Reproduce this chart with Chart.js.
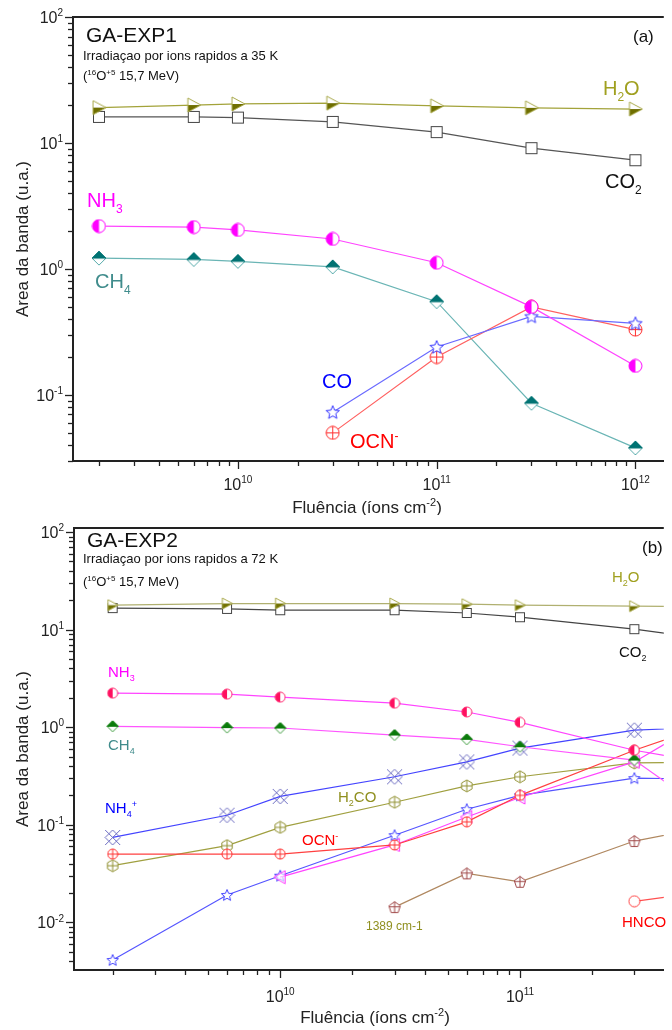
<!DOCTYPE html>
<html>
<head>
<meta charset="utf-8">
<script src="https://cdn.jsdelivr.net/npm/chart.js@4.4.1/dist/chart.umd.min.js"></script>
<style>
  html, body { margin: 0; padding: 0; background: #fff; }
  .wrap { position: absolute; left: 0; width: 672px; height: 515px; }
</style>
</head>
<body>
<div class="wrap" style="top:0"><canvas id="chartA" width="672" height="515"></canvas></div>
<div class="wrap" style="top:515px"><canvas id="chartB" width="672" height="515"></canvas></div>
<script>
// ---- dados (a) ----
const fluenceA = [2e9, 6e9, 1e10, 3e10, 1e11, 3e11, 1e12];
const h2oA = [19.1, 20, 20.4, 20.7, 19.7, 19, 18.6];
const co2A = [16.1, 16.1, 15.9, 14.7, 12.2, 9.1, 7.3];
const nh3A = [2.19, 2.15, 2.04, 1.73, 1.12, 0.5, 0.17];
const ch4A = [1.22, 1.19, 1.15, 1.04, 0.55, 0.086, 0.038];
const coA  = [null, null, null, 0.073, 0.24, 0.42, 0.37];
const ocnA = [null, null, null, 0.05, 0.20, 0.5, 0.33];

// ---- dados (b) ----
const fluenceB = [2e9, 6e9, 1e10, 3e10, 6e10, 1e11, 3e11, 1e12];
const h2oB  = [17.8, 18.5, 18.5, 18.5, 18.2, 17.8, 17.4, 17];
const co2B  = [16.6, 16.3, 15.8, 15.8, 14.8, 13.4, 10.1, 6.8];
const nh3B  = [2.23, 2.18, 2.03, 1.76, 1.43, 1.12, 0.58, 0.35];
const ch4B  = [1.02, 0.99, 0.98, 0.83, 0.75, 0.63, 0.46, 0.057];
const nh4B  = [0.074, 0.125, 0.195, 0.31, 0.44, 0.61, 0.93, 1.05];
const h2coB = [0.038, 0.061, 0.094, 0.17, 0.25, 0.31, 0.43, 0.44];
const ocnB  = [0.05, 0.05, 0.05, 0.062, 0.107, 0.2, 0.58, 1.6];
const coB   = [0.0041, 0.019, 0.030, 0.078, 0.144, 0.2, 0.30, 0.29];
const triB  = [null, null, 0.029, 0.062, 0.12, 0.19, 0.44, 2.5];
const b1389 = [null, null, null, 0.0143, 0.0317, 0.026, 0.068, 0.12];
const hncoB = [null, null, null, null, null, null, 0.0164, 0.024];

const FONT = 'Liberation Sans, Arial, sans-serif';

// texto com sub/sobrescrito: H_{2}O, cm^{-2}
function parse(s) {
  const out = [];
  const re = /([_^])\{([^}]*)\}|([^_^]+)/g;
  let m;
  while ((m = re.exec(s))) {
    if (m[3]) out.push([m[3], 0]);
    else out.push([m[2], m[1] === '^' ? 1 : -1]);
  }
  return out;
}

function rich(ctx, x, y, str, size, color, align) {
  const small = Math.round(size * 0.62);
  let w = 0;
  const segs = parse(str).map(([t, m]) => {
    const f = (m ? small : size) + 'px ' + FONT;
    ctx.font = f;
    const sw = ctx.measureText(t).width;
    w += sw;
    return { t, m, f, sw };
  });
  let cx = align === 'center' ? x - w / 2 : align === 'right' ? x - w : x;
  ctx.fillStyle = color;
  ctx.textAlign = 'left';
  ctx.textBaseline = 'alphabetic';
  segs.forEach(s => {
    ctx.font = s.f;
    const dy = s.m === 1 ? -size * 0.42 : s.m === -1 ? size * 0.28 : 0;
    ctx.fillText(s.t, cx, y + dy);
    cx += s.sw;
  });
}

// ---- marcadores ----
function marker(size, fn) {
  const c = document.createElement('canvas');
  c.width = c.height = size;
  const g = c.getContext('2d');
  g.translate(size / 2, size / 2);
  g.lineWidth = 1;
  fn(g, size / 2 - 1);
  return c;
}
const triHalf = (size, edge, dark) => marker(size, (g, r) => {
  g.beginPath(); g.moveTo(-r * 0.85, -r); g.lineTo(r, 0); g.lineTo(-r * 0.85, r); g.closePath();
  g.fillStyle = '#fff'; g.fill();
  g.save(); g.clip(); g.fillStyle = dark; g.fillRect(-r - 1, 0, 2 * r + 2, r + 1); g.restore();
  g.strokeStyle = edge; g.stroke();
});
const halfCirc = (size, fill, edge) => marker(size, (g, r) => {
  g.beginPath(); g.arc(0, 0, r, 0, Math.PI * 2); g.fillStyle = '#fff'; g.fill();
  g.beginPath(); g.arc(0, 0, r, Math.PI / 2, Math.PI * 1.5); g.closePath(); g.fillStyle = fill; g.fill();
  g.beginPath(); g.arc(0, 0, r, 0, Math.PI * 2); g.strokeStyle = edge; g.stroke();
});
const halfDiam = (size, dark, edge) => marker(size, (g, r) => {
  g.beginPath(); g.moveTo(0, -r); g.lineTo(r, 0); g.lineTo(0, r); g.lineTo(-r, 0); g.closePath();
  g.fillStyle = '#fff'; g.fill(); g.strokeStyle = edge; g.stroke();
  g.beginPath(); g.moveTo(0, -r); g.lineTo(r, 0); g.lineTo(-r, 0); g.closePath();
  g.fillStyle = dark; g.fill(); g.strokeStyle = dark; g.stroke();
});
const openSquare = (size, edge) => marker(size, (g, r) => {
  g.fillStyle = '#fff'; g.fillRect(-r, -r, 2 * r, 2 * r);
  g.strokeStyle = edge; g.strokeRect(-r + 0.5, -r + 0.5, 2 * r - 1, 2 * r - 1);
});
const star = (size, col) => marker(size, (g, r) => {
  g.beginPath();
  for (let i = 0; i < 10; i++) {
    const rr = i % 2 ? r * 0.45 : r;
    const a = -Math.PI / 2 + i * Math.PI / 5;
    g.lineTo(rr * Math.cos(a), rr * Math.sin(a) + r * 0.08);
  }
  g.closePath(); g.fillStyle = '#fff'; g.fill(); g.strokeStyle = col; g.stroke();
});
function poly(g, n, r, rot) {
  g.beginPath();
  for (let i = 0; i < n; i++) {
    const a = rot + i * 2 * Math.PI / n;
    g.lineTo(r * Math.cos(a), r * Math.sin(a));
  }
  g.closePath();
}
function plus(g, r) {
  g.beginPath(); g.moveTo(-r, 0); g.lineTo(r, 0); g.moveTo(0, -r); g.lineTo(0, r); g.stroke();
}
const circPlus = (size, col) => marker(size, (g, r) => {
  g.beginPath(); g.arc(0, 0, r, 0, Math.PI * 2); g.fillStyle = '#fff'; g.fill();
  g.strokeStyle = col; g.stroke(); plus(g, r);
});
const hexPlus = (size, col) => marker(size, (g, r) => {
  poly(g, 6, r, -Math.PI / 2); g.fillStyle = '#fff'; g.fill(); g.strokeStyle = col; g.stroke(); plus(g, r * 0.86);
});
const pentPlus = (size, col) => marker(size, (g, r) => {
  g.translate(0, r * 0.1);
  poly(g, 5, r, -Math.PI / 2); g.fillStyle = '#fff'; g.fill(); g.strokeStyle = col; g.stroke();
  g.beginPath(); g.moveTo(-r * 0.9, -r * 0.15); g.lineTo(r * 0.9, -r * 0.15); g.moveTo(0, -r); g.lineTo(0, r * 0.8); g.stroke();
});
// losango dividido em 4 com um X ate os cantos
const lattice = (size, col) => marker(size, (g, r) => {
  g.strokeStyle = col;
  g.beginPath();
  [-r, 0, r].forEach(c => {
    const a = Math.max(-r, -r + c), b = Math.min(r, r + c);
    g.moveTo(a, a - c); g.lineTo(b, b - c);
    g.moveTo(a, c - a); g.lineTo(b, c - b);
  });
  g.stroke();
});
const leftTri = (size, col) => marker(size, (g, r) => {
  g.beginPath(); g.moveTo(-r, 0); g.lineTo(r * 0.75, -r); g.lineTo(r * 0.75, r); g.closePath();
  g.fillStyle = 'rgba(255,255,255,0.6)'; g.fill(); g.strokeStyle = col; g.stroke();
});
const openCirc = (size, col) => marker(size, (g, r) => {
  g.beginPath(); g.arc(0, 0, r, 0, Math.PI * 2); g.fillStyle = '#fff'; g.fill(); g.strokeStyle = col; g.stroke();
});

function ds(xs, ys, line, pt) {
  return {
    data: xs.map((x, i) => ({ x: x, y: ys[i] })).filter(p => p.y != null),
    borderColor: line,
    borderWidth: 1.2,
    pointStyle: pt,
    pointRadius: 7,
    tension: 0,
    fill: false
  };
}

// ticks, rotulos e textos desenhados em volta do grafico
function decor(cfg) {
  return {
    id: 'decor',
    afterDraw(chart) {
      const ctx = chart.ctx, a = chart.chartArea;
      const xs = chart.scales.x, ys = chart.scales.y;
      ctx.save();
      ctx.strokeStyle = '#222';
      ctx.lineWidth = 2;
      ctx.beginPath(); ctx.moveTo(a.left, a.top); ctx.lineTo(a.right, a.top); ctx.stroke();
      ctx.lineWidth = 1.3;
      const eachTick = (sc, cb) => {
        for (let e = Math.floor(Math.log10(sc.min)); e <= Math.ceil(Math.log10(sc.max)); e++) {
          for (let m = 1; m <= 9; m++) {
            const v = m * Math.pow(10, e);
            if (v < sc.min * 0.999 || v > sc.max * 1.001) continue;
            cb(sc.getPixelForValue(v), m, e);
          }
        }
      };
      eachTick(ys, (p, m, e) => {
        const len = m === 1 ? 8 : 5;
        ctx.beginPath(); ctx.moveTo(a.left - len, Math.round(p) + 0.5); ctx.lineTo(a.left, Math.round(p) + 0.5); ctx.stroke();
        if (m === 1) rich(ctx, a.left - 10, p + 6, '10^{' + e + '}', cfg.tickSize, '#222', 'right');
      });
      eachTick(xs, (p, m, e) => {
        const len = m === 1 ? 8 : 5;
        ctx.beginPath(); ctx.moveTo(Math.round(p) + 0.5, a.bottom); ctx.lineTo(Math.round(p) + 0.5, a.bottom + len); ctx.stroke();
        if (m === 1) rich(ctx, p, a.bottom + cfg.xLabelDy, '10^{' + e + '}', cfg.tickSize, '#222', 'center');
      });
      // titulos dos eixos
      rich(ctx, cfg.xTitle[0], cfg.xTitle[1], 'Fluência (íons cm^{-2})', 17, '#222', 'center');
      ctx.save();
      ctx.translate(28, (a.top + a.bottom) / 2);
      ctx.rotate(-Math.PI / 2);
      rich(ctx, 0, 0, 'Area da banda (u.a.)', 17, '#222', 'center');
      ctx.restore();
      cfg.texts.forEach(t => rich(ctx, t[0], t[1], t[2], t[3], t[4], 'left'));
      ctx.restore();
    }
  };
}

function makeChart(id, datasets, xr, yr, area, cfg) {
  return new Chart(document.getElementById(id), {
    type: 'line',
    data: { datasets: datasets },
    options: {
      responsive: false,
      animation: false,
      layout: { padding: { top: area.top, left: 0, right: 0, bottom: 0 } },
      plugins: { legend: { display: false }, tooltip: { enabled: false } },
      scales: {
        x: {
          type: 'logarithmic', min: xr[0], max: xr[1],
          grid: { display: false, drawTicks: false },
          ticks: { display: false },
          border: { display: true, color: '#222', width: 2 },
          afterFit: s => { s.height = 515 - area.bottom; }
        },
        y: {
          type: 'logarithmic', min: yr[0], max: yr[1],
          grid: { display: false, drawTicks: false },
          ticks: { display: false },
          border: { display: true, color: '#222', width: 2 },
          afterFit: s => { s.width = area.left; }
        }
      }
    },
    plugins: [decor(cfg)]
  });
}

// ---- painel (a) ----
makeChart('chartA', [
  ds(fluenceA, h2oA, '#a3a33a', triHalf(16, '#a8a84a', '#6e6e00')),
  ds(fluenceA, co2A, '#555555', openSquare(14, '#444')),
  ds(fluenceA, nh3A, '#ff44ff', halfCirc(15, '#ff00ff', '#ff00ff')),
  ds(fluenceA, coA, '#6a6aff', star(16, '#3333ff')),
  ds(fluenceA, ocnA, '#ff6060', circPlus(15, '#ff3030')),
  ds(fluenceA, ch4A, '#6ab5b5', halfDiam(16, '#007373', '#55aaaa'))
], [1.48e9, 1.39e12], [0.0299, 100], { top: 17, bottom: 461, left: 73 }, {
  tickSize: 16, xLabelDy: 29, xTitle: [367, 513],
  texts: [
    [86, 42, 'GA-EXP1', 21, '#111'],
    [83, 60, 'Irradiaçao por ions rapidos a 35 K', 13, '#111'],
    [83, 80, '(^{16}O^{+5} 15,7 MeV)', 13, '#111'],
    [633, 42, '(a)', 17, '#111'],
    [603, 95, 'H_{2}O', 20, '#a0a020'],
    [605, 188, 'CO_{2}', 20, '#111'],
    [87, 207, 'NH_{3}', 20, '#ff00ff'],
    [95, 288, 'CH_{4}', 20, '#408c8c'],
    [322, 388, 'CO', 20, '#0000ff'],
    [350, 448, 'OCN^{-}', 20, '#ff0000']
  ]
});

// ---- painel (b) ----
makeChart('chartB', [
  ds(fluenceB, h2oB, '#b0b070', triHalf(13, '#a8a84a', '#707000')),
  ds(fluenceB, co2B, '#444444', openSquare(12, '#444')),
  ds(fluenceB, nh3B, '#ff44ff', halfCirc(12, '#ff1060', '#ff2a70')),
  ds(fluenceB, ch4B, '#ff55ff', halfDiam(13, '#0a7a0a', '#3a9a3a')),
  ds(fluenceB, ocnB, '#ff4040', circPlus(12, '#ff3030')),
  ds(fluenceB, triB, '#ff44ff', leftTri(15, '#ff33ff')),
  ds(fluenceB, coB, '#5555ff', star(14, '#4444ff')),
  ds(fluenceB, h2coB, '#a0a040', hexPlus(14, '#909030')),
  ds(fluenceB, nh4B, '#4444ff', lattice(17, '#6b6bc0')),
  ds(fluenceB, b1389, '#b08860', pentPlus(14, '#a04848')),
  ds(fluenceB, hncoB, '#ff5050', openCirc(13, '#ff4040'))
], [1.38e9, 3.98e11], [0.00324, 110], { top: 13, bottom: 455, left: 74 }, {
  tickSize: 16, xLabelDy: 32, xTitle: [375, 508],
  texts: [
    [87, 32, 'GA-EXP2', 21, '#111'],
    [83, 48, 'Irradiaçao por ions rapidos a 72 K', 13, '#111'],
    [83, 71, '(^{16}O^{+5} 15,7 MeV)', 13, '#111'],
    [642, 38, '(b)', 17, '#111'],
    [612, 67, 'H_{2}O', 15, '#a0a020'],
    [619, 142, 'CO_{2}', 15, '#111'],
    [108, 162, 'NH_{3}', 15, '#ff00ff'],
    [108, 235, 'CH_{4}', 15, '#408c8c'],
    [105, 298, 'NH_{4}^{+}', 15, '#0000ff'],
    [338, 287, 'H_{2}CO', 15, '#909020'],
    [302, 330, 'OCN^{-}', 15, '#ff0000'],
    [366, 415, '1389 cm-1', 12, '#909020'],
    [622, 412, 'HNCO', 15, '#ff0000']
  ]
});
</script>
</body>
</html>
